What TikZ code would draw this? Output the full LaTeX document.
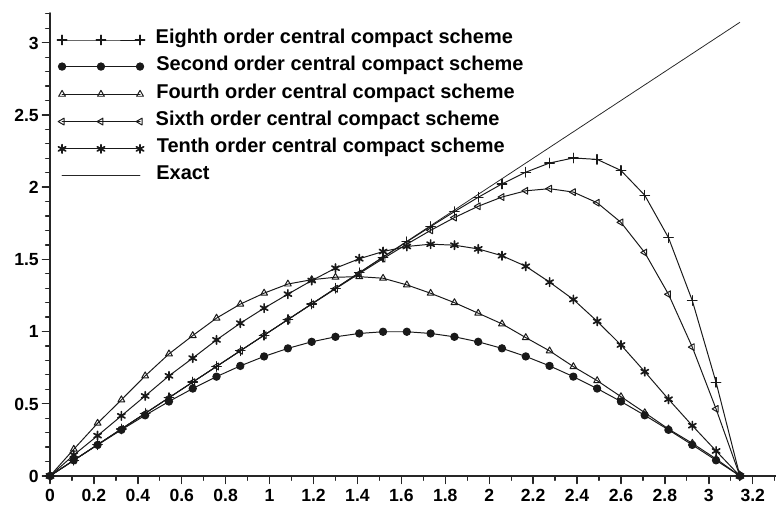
\documentclass[tikz,border=0pt]{standalone}
\usepackage{fontspec}
\setmainfont{Liberation Sans}
\usetikzlibrary{plotmarks}

\tikzset{
  curve/.style={line width=0.7pt, black!90},
  axisline/.style={line width=1.2pt, black!85},
  ticklab/.style={inner sep=0pt, font=\fontsize{12.5}{13}\selectfont\bfseries},
  legtext/.style={anchor=mid west, inner sep=0pt, font=\fontsize{14.2}{16}\selectfont\bfseries},
  eighth/.style={curve, mark=+, mark size=3.4pt, mark options={line width=0.9pt}},
  second/.style={curve, mark=*, mark size=2.6pt},
  fourth/.style={curve, mark=triangle, mark size=2.8pt},
  sixth/.style={curve, mark=triangle, mark size=2.8pt, mark options={rotate=90}},
  tenth/.style={curve, mark=asterisk, mark size=3pt, mark options={line width=1.2pt}},
  exact/.style={line width=0.55pt, black!85},
}

\begin{document}
\begin{tikzpicture}[x=5.49cm, y=3.61cm, line cap=round, line join=round]
  \useasboundingbox (-0.2277,-0.2355) rectangle (3.306,3.296);

  % axes
  \draw[axisline] (0,3.206) -- (0,0) -- (3.306,0);
  \foreach \n in {1,...,32} \draw[line width=0.9pt, black!85] (0,\n/10) -- ++(-0.11cm,0);
  \foreach \n in {0,...,33} \draw[line width=0.9pt, black!85] (\n/10,0) -- ++(0,-0.11cm);
  \foreach \v [count=\n] in {0,0.5,1,1.5,2,2.5,3} {
    \draw[line width=1pt, black!85] (0,\v) -- ++(-0.19cm,0);
    \node[ticklab, anchor=base east] (yt\n) at (-0.05,\v-0.044) {\v};
  }
  \foreach \v [count=\n] in {0,0.2,0.4,0.6,0.8,1,1.2,1.4,1.6,1.8,2,2.2,2.4,2.6,2.8,3,3.2} {
    \draw[line width=1pt, black!85] (\v,0) -- ++(0,-0.19cm);
    \node[ticklab, anchor=base] (xt\n) at (\v,-0.176) {\v};
  }

  % curves
  \draw[exact] (0,0) -- (pi,pi);
  \draw[second] plot[domain=0:pi, samples=30] (\x,{sin(\x r)});
  \draw[fourth] plot coordinates {(0,0) (0.1083,0.185) (0.2167,0.365) (0.3250,0.527)
    (0.4333,0.693) (0.5417,0.845) (0.6500,0.972) (0.7583,1.093) (0.8667,1.190)
    (0.9750,1.266) (1.0833,1.329) (1.1917,1.359) (1.3000,1.376) (1.4083,1.380)
    (1.5167,1.369) (1.6250,1.323) (1.7333,1.265) (1.8417,1.200) (1.9500,1.127)
    (2.0583,1.053) (2.1666,0.958) (2.2750,0.866) (2.3833,0.757) (2.4916,0.660)
    (2.6000,0.549) (2.7083,0.438) (2.8166,0.325) (2.9250,0.226) (3.0333,0.118)
    (3.1416,0)};
  \draw[tenth] plot coordinates {(0,0) (0.1083,0.145) (0.2167,0.279) (0.3250,0.416)
    (0.4333,0.554) (0.5417,0.693) (0.6500,0.816) (0.7583,0.942) (0.8667,1.058)
    (0.9750,1.162) (1.0833,1.259) (1.1917,1.353) (1.3000,1.439) (1.4083,1.504)
    (1.5167,1.554) (1.6250,1.589) (1.7333,1.605) (1.8417,1.598) (1.9500,1.572)
    (2.0583,1.525) (2.1666,1.452) (2.2750,1.342) (2.3833,1.222) (2.4916,1.071)
    (2.6000,0.907) (2.7083,0.722) (2.8166,0.531) (2.9250,0.348) (3.0333,0.173)
    (3.1416,0)};
  \draw[sixth] plot[domain=0:pi, samples=30]
    (\x,{(14/9*sin(\x r)+1/18*sin(2*\x r))/(1+2/3*cos(\x r))});
  \draw[eighth] plot[domain=0:pi, samples=30]
    (\x,{(40/27*sin(\x r)+25/108*sin(2*\x r))/(1+8/9*cos(\x r)+1/18*cos(2*\x r))});

  % legend
  \node[legtext] (leg8) at (0.480,3.019) {Eighth order central compact scheme};
  \node[legtext] (leg2) at (0.483,2.835) {Second order central compact scheme};
  \node[legtext] (leg4) at (0.483,2.643) {Fourth order central compact scheme};
  \node[legtext] (leg6) at (0.480,2.454) {Sixth order central compact scheme};
  \node[legtext] (leg10) at (0.485,2.265) {Tenth order central compact scheme};
  \node[legtext] (legex) at (0.483,2.080) {Exact};
  \draw[eighth] plot coordinates {(0.055,3.019) (0.232,3.019) (0.410,3.019)};
  \draw[second] plot coordinates {(0.055,2.835) (0.232,2.835) (0.410,2.835)};
  \draw[fourth] plot coordinates {(0.055,2.643) (0.232,2.643) (0.410,2.643)};
  \draw[sixth] plot coordinates {(0.055,2.454) (0.232,2.454) (0.410,2.454)};
  \draw[tenth] plot coordinates {(0.055,2.265) (0.232,2.265) (0.410,2.265)};
  \draw[exact] (0.055,2.080) -- (0.410,2.080);
\end{tikzpicture}
\end{document}
